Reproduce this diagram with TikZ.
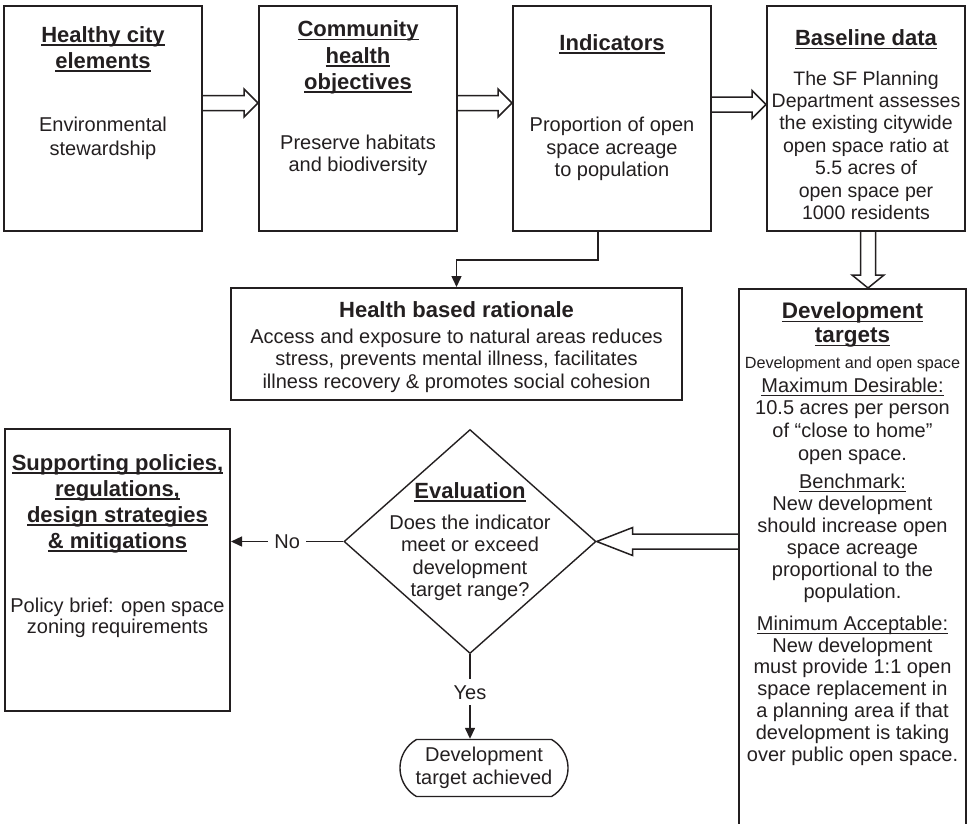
\documentclass[tikz,border=0pt]{standalone}
\usepackage{fontspec}
\setmainfont{Liberation Sans}
\usetikzlibrary{positioning,shapes.geometric,shapes.misc,arrows.meta,calc}
\definecolor{ink}{HTML}{231F20}
% underlined heading line
\newsavebox{\undlbox}
\newcommand{\undl}[2][1.5pt]{\sbox{\undlbox}{#2}\rlap{\rule[-3.5pt]{\wd\undlbox}{#1}}\usebox{\undlbox}}
% open block arrow: start, tip, head length, head half width
\newcommand{\fatarrow}[4]{%
  \coordinate (faH) at ($(#2)!#3!(#1)$);
  \draw[hollow] ($(#1)!7.5pt!90:(#2)$) -- ($(faH)!7.5pt!-90:(#1)$) -- ($(faH)!#4!-90:(#1)$) -- (#2)
    -- ($(faH)!#4!90:(#1)$) -- ($(faH)!7.5pt!90:(#1)$) -- ($(#1)!7.5pt!-90:(#2)$);}
\begin{document}
\begin{tikzpicture}[x=1pt,y=-1pt,
  box/.style={draw=ink, line width=2pt, inner sep=0pt},
  ttl/.style={anchor=north, inner sep=0pt, align=center, text=ink, font=\bfseries\fontsize{22}{26}\selectfont},
  txt/.style={anchor=north, inner sep=0pt, align=center, text=ink, font=\fontsize{20}{23}\selectfont},
  conn/.style={draw=ink, line width=1.4pt, -{Triangle[length=11pt,width=10pt]}},
  hollow/.style={draw=ink, line width=1.5pt, line join=miter}]
\useasboundingbox (0,0) rectangle (968,823);
% top row
\node[box, minimum width=198pt, minimum height=225pt] (hce) at (103,118.5) {};
\node[ttl] (hceT) at (103,26.2) {\undl{Healthy city}\\\undl{elements}};
\node[txt, font=\fontsize{20}{23.3}\selectfont] (hceB) at (103,117.1) {Environmental\\stewardship};
\node[box, minimum width=198pt, minimum height=225pt] (cho) at (358,118.5) {};
\node[ttl, font=\bfseries\fontsize{22}{26.3}\selectfont] (choT) at (358,20.6) {\undl{Community}\\\undl{health}\\\undl{objectives}};
\node[txt, font=\fontsize{20}{22.7}\selectfont] (choB) at (358,134.4) {Preserve habitats\\and biodiversity};
\node[box, minimum width=198pt, minimum height=225pt] (ind) at (612,118.5) {};
\node[ttl] (indT) at (612,33.9) {\undl{Indicators}};
\node[txt, font=\fontsize{20}{22.5}\selectfont] (indB) at (612,117.1) {Proportion of open\\space acreage\\to population};
\node[box, minimum width=198pt, minimum height=225pt] (base) at (866,118.5) {};
\node[ttl] (baseT) at (866,29.6) {\undl{Baseline data}};
\node[txt, font=\fontsize{19.5}{22.4}\selectfont] (baseB) at (866,70.8) {The SF Planning\\Department assesses\\the existing citywide\\open space ratio at\\5.5 acres of\\open space per\\1000 residents};
% rationale
\node[box, minimum width=451pt, minimum height=112pt] (rat) at (456.5,344) {};
\node[ttl] (ratT) at (456.5,301.2) {Health based rationale};
\node[txt, font=\fontsize{20}{22.5}\selectfont] (ratB) at (456.5,328.7) {Access and exposure to natural areas reduces\\stress, prevents mental illness, facilitates\\illness recovery \& promotes social cohesion};
% targets
\node[box, minimum width=227pt, minimum height=600pt, anchor=north] (dev) at (852.5,288) {};
\node[ttl, font=\bfseries\fontsize{22.5}{24}\selectfont] (devT) at (852.5,302) {\undl{Development}\\\undl{targets}};
\node[txt, font=\fontsize{16.2}{19}\selectfont] (devS) at (852.5,356.5) {Development and open space};
\node[txt, font=\fontsize{20}{22.7}\selectfont] (dev1) at (852.5,377.5) {\undl[1pt]{Maximum Desirable:}\\10.5 acres per person\\of “close to home”\\open space.};
\node[txt, font=\fontsize{20}{22}\selectfont] (dev2) at (852.5,473.6) {\undl[1pt]{Benchmark:}\\New development\\should increase open\\space acreage\\proportional to the\\population.};
\node[txt, font=\fontsize{20}{21.9}\selectfont] (dev3) at (852.5,615.4) {\undl[1pt]{Minimum Acceptable:}\\New development\\must provide 1:1 open\\space replacement in\\a planning area if that\\development is taking\\over public open space.};
% evaluation
\node[draw=ink, line width=1.4pt, diamond, minimum width=252pt, minimum height=224pt, inner sep=0pt] (eva) at (470,541.5) {};
\node[ttl] (evaT) at (470,482.3) {\undl{Evaluation}};
\node[txt, font=\fontsize{20}{22.5}\selectfont] (evaB) at (470,514.7) {Does the indicator\\meet or exceed\\development\\target range?};
\node[box, minimum width=225pt, minimum height=282pt] (spp) at (117.5,570) {};
\node[ttl] (sppT) at (117.5,454) {\undl{Supporting policies,}\\\undl{regulations,}\\\undl{design strategies}\\\undl{\& mitigations}};
\node[txt, font=\fontsize{20}{20.7}\selectfont] (sppB) at (117.5,598.1) {Policy brief: open space\\zoning requirements};
\node[draw=ink, line width=1.4pt, rounded rectangle, rounded rectangle arc length=120, minimum width=168pt, minimum height=57pt, inner sep=0pt, align=center, text=ink, font=\fontsize{20}{23.3}\selectfont] (ach) at (484,768) {Development\\target achieved};
% connectors
\coordinate (rbend) at (598,260);
\draw[conn] (ind.south -| rbend) -- (rbend) -| (rat.north);
\draw[conn] (eva.west) -- node[fill=white, inner sep=6pt, text=ink, font=\fontsize{20}{22}\selectfont] (no) {No} (eva.west -| spp.east);
\draw[conn] (eva.south) -- node[fill=white, inner sep=6pt, pos=0.45, text=ink, font=\fontsize{20}{22}\selectfont] (yes) {Yes} (eva.south |- ach.north);
% block arrows
\coordinate (a1s) at ([yshift=15.5pt]hce.east);
\coordinate (a1t) at ([yshift=15.5pt]cho.west);
\fatarrow{a1s}{a1t}{14pt}{14pt}
\coordinate (a2s) at ([yshift=15.5pt]cho.east);
\coordinate (a2t) at ([yshift=15.5pt]ind.west);
\fatarrow{a2s}{a2t}{14pt}{14pt}
\coordinate (a3s) at ([yshift=14pt]ind.east);
\coordinate (a3t) at ([yshift=14pt]base.west);
\fatarrow{a3s}{a3t}{14pt}{14pt}
\coordinate (a4s) at ([xshift=2pt]base.south);
\coordinate (a4t) at (a4s |- dev.north);
\fatarrow{a4s}{a4t}{13pt}{16pt}
\coordinate (a5s) at (dev.west |- eva.east);
\fatarrow{a5s}{eva.east}{36pt}{14pt}
\end{tikzpicture}
\end{document}
